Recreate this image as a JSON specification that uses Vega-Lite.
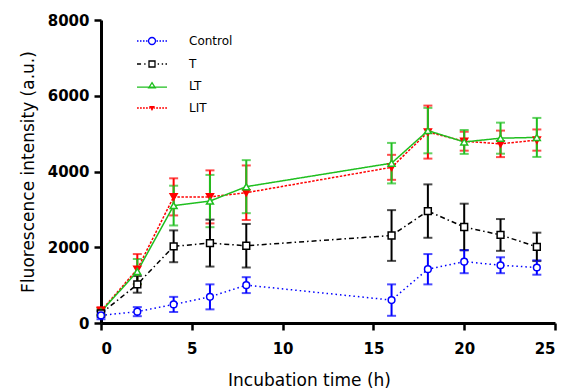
{
  "$schema": "https://vega.github.io/schema/vega-lite/v6.json",
  "width": 454,
  "height": 303,
  "autosize": "none",
  "padding": {"left": 101, "top": 20, "right": 12, "bottom": 69},
  "background": "white",
  "config": {
    "view": {"stroke": null},
    "font": "DejaVu Sans",
    "axis": {
      "domainColor": "black", "domainWidth": 3, "tickColor": "black", "tickWidth": 2.5, "tickSize": 7,
      "grid": false, "labelFont": "DejaVu Sans", "labelFontWeight": "bold", "labelFontSize": 15, "labelColor": "black",
      "titleFont": "DejaVu Sans", "titleFontWeight": "normal", "titleFontSize": 17, "titleColor": "black"
    },
    "legend": {"labelFont": "DejaVu Sans", "labelFontSize": 12, "labelColor": "black",
      "orient": "none", "legendX": 35, "legendY": 5, "symbolSize": 900, "symbolStrokeWidth": 1.3, "symbolOpacity": 1,
      "labelOffset": 21, "rowPadding": -8, "symbolFillColor": "transparent", "title": null}
  },
  "data": {"values": [
    {"s":"LIT","t":0,"y":320,"e":100},{"s":"LIT","t":2,"y":1420,"e":400},{"s":"LIT","t":4,"y":3330,"e":490},{"s":"LIT","t":6,"y":3330,"e":700},{"s":"LIT","t":8,"y":3440,"e":720},{"s":"LIT","t":16,"y":4110,"e":330},{"s":"LIT","t":18,"y":5040,"e":700},{"s":"LIT","t":20,"y":4800,"e":250},{"s":"LIT","t":22,"y":4730,"e":350},{"s":"LIT","t":24,"y":4830,"e":280},
    {"s":"LT","t":0,"y":300,"e":80},{"s":"LT","t":2,"y":1360,"e":330},{"s":"LT","t":4,"y":3100,"e":525},{"s":"LT","t":6,"y":3220,"e":690},{"s":"LT","t":8,"y":3600,"e":700},{"s":"LT","t":16,"y":4220,"e":535},{"s":"LT","t":18,"y":5080,"e":600},{"s":"LT","t":20,"y":4780,"e":315},{"s":"LT","t":22,"y":4880,"e":410},{"s":"LT","t":24,"y":4900,"e":515},
    {"s":"T","t":0,"y":250,"e":80},{"s":"T","t":2,"y":1020,"e":220},{"s":"T","t":4,"y":2025,"e":420},{"s":"T","t":6,"y":2110,"e":620},{"s":"T","t":8,"y":2040,"e":575},{"s":"T","t":16,"y":2310,"e":670},{"s":"T","t":18,"y":2955,"e":705},{"s":"T","t":20,"y":2535,"e":615},{"s":"T","t":22,"y":2325,"e":420},{"s":"T","t":24,"y":2010,"e":375},
    {"s":"Control","t":0,"y":200,"e":100},{"s":"Control","t":2,"y":300,"e":120},{"s":"Control","t":4,"y":490,"e":200},{"s":"Control","t":6,"y":690,"e":330},{"s":"Control","t":8,"y":1000,"e":210},{"s":"Control","t":16,"y":605,"e":415},{"s":"Control","t":18,"y":1420,"e":400},{"s":"Control","t":20,"y":1620,"e":305},{"s":"Control","t":22,"y":1525,"e":210},{"s":"Control","t":24,"y":1465,"e":190}
  ]},
  "encoding": {
    "x": {"field": "t", "type": "quantitative", "title": "Incubation time (h)",
      "scale": {"domain": [0, 25], "nice": false},
      "axis": {"values": [0,5,10,15,20,25], "format": "d", "labelPadding": 11, "titleX": 208, "titleY": 62, "titleBaseline": "alphabetic"}},
    "y": {"field": "y", "type": "quantitative", "title": "Fluorescence intensity (a.u.)",
      "scale": {"domain": [0, 8000], "nice": false},
      "axis": {"values": [0,2000,4000,6000,8000], "format": "d", "labelPadding": 5, "titlePadding": 10}}
  },
  "layer": [
    {
      "mark": {"type": "errorbar", "ticks": {"size": 9}, "thickness": 2},
      "encoding": {
        "yError": {"field": "e"},
        "color": {"field": "s", "type": "nominal", "legend": null,
          "scale": {"domain": ["Control","T","LT","LIT"], "range": ["#0000ff","#000000","#1fbf1f","#ff0000"]}}
      }
    },
    {
      "mark": {"type": "line", "strokeWidth": 1.5},
      "encoding": {
        "color": {"field": "s", "type": "nominal", "legend": null},
        "strokeDash": {"field": "s", "type": "nominal", "legend": null,
          "scale": {"domain": ["Control","T","LT","LIT"], "range": [[1.5,3],[5,3,1.5,3],[1,0],[2.5,1.5]]}},
        "order": {"field": "t"}
      }
    },
    {
      "mark": {"type": "point", "filled": false, "strokeWidth": 1.5, "opacity": 1},
      "encoding": {
        "color": {"field": "s", "type": "nominal", "legend": null},
        "fill": {"field": "s", "type": "nominal", "legend": null,
          "scale": {"domain": ["Control","T","LT","LIT"], "range": ["white","white","white","#ff0000"]}},
        "shape": {"field": "s", "type": "nominal", "legend": null,
          "scale": {"domain": ["Control","T","LT","LIT"], "range": ["circle","square","triangle-up","triangle-down"]}},
        "size": {"field": "s", "type": "nominal", "legend": null,
          "scale": {"domain": ["Control","T","LT","LIT"], "range": [45, 50, 55, 7]}}
      }
    },
    {
      "mark": {"type": "point", "filled": false, "opacity": 0},
      "encoding": {
        "stroke": {"field": "s", "type": "nominal",
          "scale": {"domain": ["Control","T","LT","LIT"], "range": ["#0000ff","#000000","#1fbf1f","#ff0000"]},
          "legend": {"title": null, "orient": "none", "legendX": 35, "legendY": 5}},
        "shape": {"field": "s", "type": "nominal",
          "legend": {"title": null, "orient": "none", "legendX": 35, "legendY": 5},
          "scale": {"domain": ["Control","T","LT","LIT"], "range": [
            "M-1,0L-0.9,0M-0.8,0L-0.7,0M-0.6,0L-0.5,0M-0.4,0L-0.3,0M0.3,0L0.4,0M0.5,0L0.6,0M0.7,0L0.8,0M0.9,0L1,0M-0.233,0A0.233,0.233,0,1,0,0.233,0A0.233,0.233,0,1,0,-0.233,0Z",
            "M-1,0L-0.73,0M-0.52,0L-0.43,0M-0.2,-0.2L0.2,-0.2L0.2,0.2L-0.2,0.2ZM0.38,0L0.47,0M0.65,0L0.74,0M0.9,0L1,0",
            "M-1,0.08L1,0.08M0,-0.22L0.22,0.13L-0.22,0.13Z",
            "M-1,0L-0.88,0M-0.8,0L-0.68,0M-0.6,0L-0.48,0M-0.4,0L-0.28,0M-0.2,0L-0.14,0M0.14,0L0.2,0M0.28,0L0.4,0M0.48,0L0.6,0M0.68,0L0.8,0M0.88,0L1,0M-0.12,-0.09L0.12,-0.09L0,0.11ZM-0.06,-0.03L0.06,-0.03"
          ]}}
      }
    }
  ],
  "resolve": {"scale": {"shape": "independent", "size": "independent", "stroke": "independent"}}
}
